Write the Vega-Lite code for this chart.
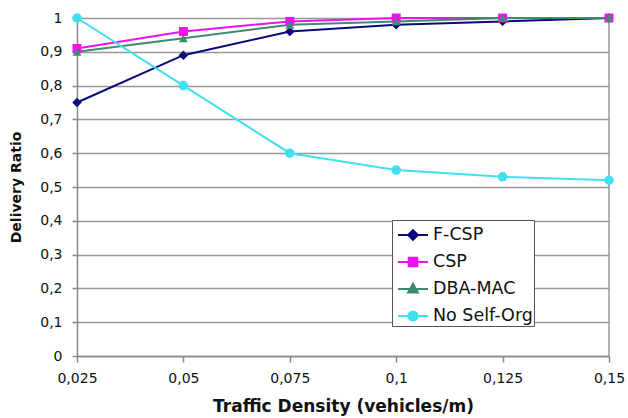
{
  "$schema": "https://vega.github.io/schema/vega-lite/v6.json",
  "autosize": {"type": "none"},
  "padding": {"left": 77, "top": 18, "right": 19, "bottom": 62},
  "width": 532,
  "height": 338,
  "background": "white",
  "config": {"view": {"stroke": null}, "font": "DejaVu Sans"},
  "data": {"values": [
    {"x": 0.025, "y": 0.75, "s": "F-CSP"},
    {"x": 0.05, "y": 0.89, "s": "F-CSP"},
    {"x": 0.075, "y": 0.96, "s": "F-CSP"},
    {"x": 0.1, "y": 0.98, "s": "F-CSP"},
    {"x": 0.125, "y": 0.99, "s": "F-CSP"},
    {"x": 0.15, "y": 1.0, "s": "F-CSP"},
    {"x": 0.025, "y": 0.91, "s": "CSP"},
    {"x": 0.05, "y": 0.96, "s": "CSP"},
    {"x": 0.075, "y": 0.99, "s": "CSP"},
    {"x": 0.1, "y": 1.0, "s": "CSP"},
    {"x": 0.125, "y": 1.0, "s": "CSP"},
    {"x": 0.15, "y": 1.0, "s": "CSP"},
    {"x": 0.025, "y": 0.90, "s": "DBA-MAC"},
    {"x": 0.05, "y": 0.94, "s": "DBA-MAC"},
    {"x": 0.075, "y": 0.98, "s": "DBA-MAC"},
    {"x": 0.1, "y": 0.99, "s": "DBA-MAC"},
    {"x": 0.125, "y": 1.0, "s": "DBA-MAC"},
    {"x": 0.15, "y": 1.0, "s": "DBA-MAC"},
    {"x": 0.025, "y": 1.0, "s": "No Self-Org"},
    {"x": 0.05, "y": 0.80, "s": "No Self-Org"},
    {"x": 0.075, "y": 0.60, "s": "No Self-Org"},
    {"x": 0.1, "y": 0.55, "s": "No Self-Org"},
    {"x": 0.125, "y": 0.53, "s": "No Self-Org"},
    {"x": 0.15, "y": 0.52, "s": "No Self-Org"}
  ]},
  "encoding": {
    "x": {
      "field": "x", "type": "quantitative",
      "scale": {"domain": [0.025, 0.15], "nice": false, "zero": false},
      "axis": {
        "values": [0.025, 0.05, 0.075, 0.1, 0.125, 0.15],
        "labelExpr": "replace(format(datum.value, ''), '.', ',')",
        "title": "Traffic Density (vehicles/m)",
        "titleFontSize": 17, "titleFontWeight": "bold", "titleColor": "#111", "titlePadding": 13,
        "labelFontSize": 14, "labelColor": "#111", "labelPadding": 9,
        "grid": false, "domainColor": "#888", "domainWidth": 1.5,
        "tickColor": "#888", "tickSize": 6, "tickWidth": 1.5, "labelFlush": false
      }
    },
    "y": {
      "field": "y", "type": "quantitative",
      "scale": {"domain": [0, 1], "nice": false},
      "axis": {
        "values": [0, 0.1, 0.2, 0.3, 0.4, 0.5, 0.6, 0.7, 0.8, 0.9, 1],
        "labelExpr": "replace(format(datum.value, ''), '.', ',')",
        "title": "Delivery Ratio",
        "titleFontSize": 14, "titleFontWeight": "bold", "titleColor": "#111", "titlePadding": 16,
        "labelFontSize": 14, "labelColor": "#111", "labelPadding": 10,
        "grid": true, "gridColor": "#999", "gridWidth": 1.5,
        "domainColor": "#888", "domainWidth": 1.5,
        "tickColor": "#888", "tickSize": 5, "tickWidth": 1.5
      }
    },
    "color": {
      "field": "s", "type": "nominal",
      "scale": {"domain": ["F-CSP", "CSP", "DBA-MAC", "No Self-Org"], "range": ["#0a0a78", "#f010f0", "#3c8c6e", "#40e0f0"]},
      "legend": {
        "title": null, "orient": "none", "legendX": 315, "legendY": 202,
        "labelFontSize": 17.5, "labelColor": "#111", "symbolSize": 660, "symbolStrokeWidth": 2,
        "symbolOffset": 6, "labelOffset": 6,
        "strokeColor": "#555", "fillColor": "white", "padding": 1, "rowPadding": 4,
        "encode": {
          "symbols": {
            "update": {
              "shape": {"signal": "datum.value === 'F-CSP' ? 'M-1.17,0L1.17,0M0,-0.38L0.38,0L0,0.38L-0.38,0Z' : datum.value === 'CSP' ? 'M-1.17,0L1.17,0M-0.33,-0.33L0.33,-0.33L0.33,0.33L-0.33,0.33Z' : datum.value === 'DBA-MAC' ? 'M-1.17,0L1.17,0M0,-0.4L0.38,0.28L-0.38,0.28Z' : 'M-1.17,0L1.17,0M-0.36,0A0.36,0.36,0,1,0,0.36,0A0.36,0.36,0,1,0,-0.36,0Z'"},
              "stroke": {"signal": "scale('color', datum.value)"},
              "fill": {"signal": "scale('color', datum.value)"},
              "strokeWidth": {"value": 2},
              "opacity": {"value": 1}
            }
          }
        }
      }
    }
  },
  "layer": [
    {
      "mark": {"type": "rule", "color": "#999999", "strokeWidth": 1.5},
      "data": {"values": [{"x": 0.15}]},
      "encoding": {"x": {"field": "x", "type": "quantitative"}, "y": null, "color": null}
    },
    {
      "mark": {"type": "line", "strokeWidth": 2},
      "encoding": {}
    },
    {
      "transform": [{"filter": "datum.s === 'F-CSP'"}],
      "mark": {"type": "point", "shape": "diamond", "filled": true, "opacity": 1, "size": 90},
      "encoding": {}
    },
    {
      "transform": [{"filter": "datum.s === 'CSP'"}],
      "mark": {"type": "point", "shape": "square", "filled": true, "opacity": 1, "size": 80},
      "encoding": {}
    },
    {
      "transform": [{"filter": "datum.s === 'DBA-MAC'"}],
      "mark": {"type": "point", "shape": "triangle-up", "filled": true, "opacity": 1, "size": 80},
      "encoding": {}
    },
    {
      "transform": [{"filter": "datum.s === 'No Self-Org'"}],
      "mark": {"type": "point", "shape": "circle", "filled": true, "opacity": 1, "size": 90},
      "encoding": {}
    }
  ]
}
